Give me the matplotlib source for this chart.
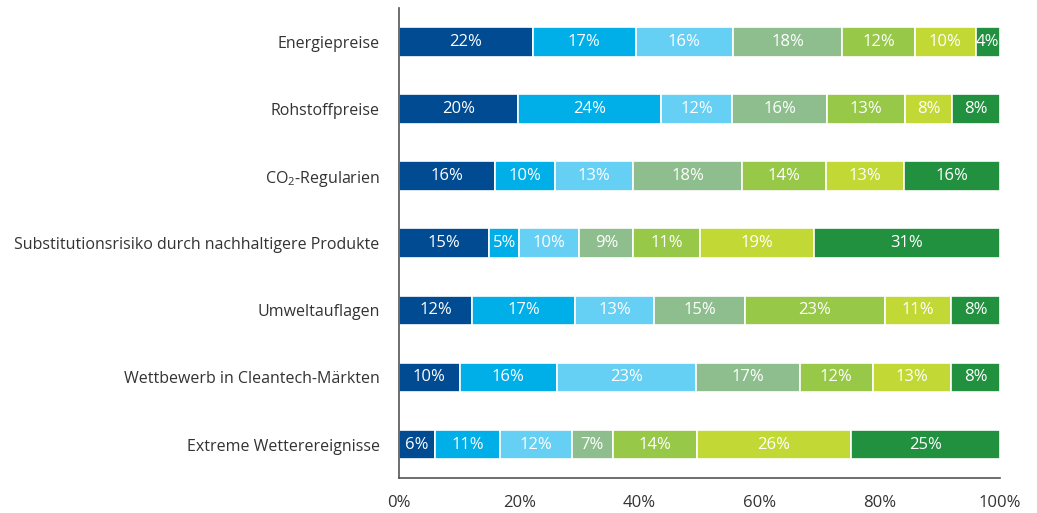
import matplotlib
matplotlib.use("Agg")
import matplotlib.pyplot as plt
import numpy as np

plt.rcParams['font.family'] = ['Open Sans', 'DejaVu Sans']
plt.rcParams['mathtext.default'] = 'regular'

# categories top to bottom
categories = [
    "Energiepreise",
    "Rohstoffpreise",
    "CO$_2$-Regularien",
    "Substitutionsrisiko durch nachhaltigere Produkte",
    "Umweltauflagen",
    "Wettbewerb in Cleantech-Märkten",
    "Extreme Wetterereignisse",
]

# shares per category, 7 segments each (as printed)
seg1 = [22, 20, 16, 15, 12, 10, 6]
seg2 = [17, 24, 10, 5, 17, 16, 11]
seg3 = [16, 12, 13, 10, 13, 23, 12]
seg4 = [18, 16, 18, 9, 15, 17, 7]
seg5 = [12, 13, 14, 11, 23, 12, 14]
seg6 = [10, 8, 13, 19, 11, 13, 26]
seg7 = [4, 8, 16, 31, 8, 8, 25]

colors = ["#004B91", "#00AEE8", "#66CFF4", "#8FBE8E", "#97C847", "#C2D935", "#21913F"]

values = np.array([seg1, seg2, seg3, seg4, seg5, seg6, seg7], dtype=float)
# bars fill 100% (printed numbers are rounded)
widths = values / values.sum(axis=0) * 100

fig = plt.figure(figsize=(10.37, 5.13), dpi=100)
ax = fig.add_axes([0.3848, 0.068, 0.5795, 0.916])

y = np.arange(len(categories))
left = np.zeros(len(categories))
for i in range(len(values)):
    ax.barh(y, widths[i], left=left, height=0.44, color=colors[i],
            edgecolor="white", linewidth=1.2)
    for j in range(len(categories)):
        ax.text(left[j] + widths[i][j] / 2, y[j], f"{int(values[i][j])}%",
                ha="center", va="center", color="white", fontsize=12)
    left += widths[i]

ax.set_ylim(6.5, -0.5)
ax.set_xlim(0, 100)
ax.set_yticks(y)
ax.set_yticklabels(categories, fontsize=11.5, color="#333333")
ax.set_xticks(np.arange(0, 101, 20))
ax.set_xticklabels([f"{t}%" for t in range(0, 101, 20)], fontsize=12, color="#333333")
ax.tick_params(axis="both", length=0)
ax.tick_params(axis="x", pad=12)
ax.tick_params(axis="y", pad=14)

for s in ["top", "right"]:
    ax.spines[s].set_visible(False)
for s in ["left", "bottom"]:
    ax.spines[s].set_color("#555555")
    ax.spines[s].set_linewidth(1.2)

fig.savefig("out.png", dpi=100)
